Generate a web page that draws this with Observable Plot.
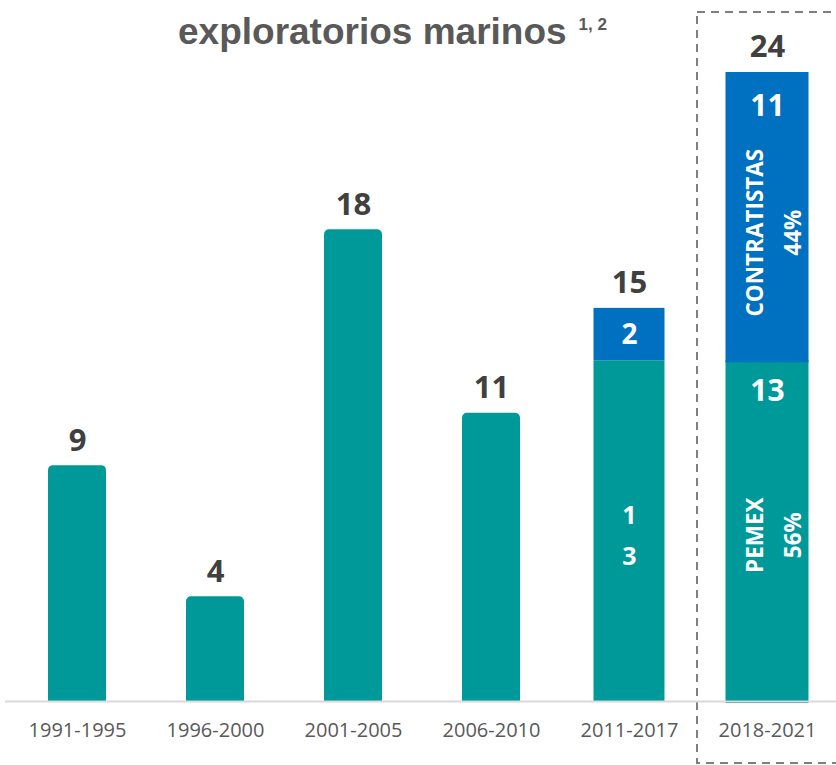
<!DOCTYPE html>
<html>
<head>
<meta charset="utf-8">
<script src="https://cdn.jsdelivr.net/npm/d3@7"></script>
<script src="https://cdn.jsdelivr.net/npm/@observablehq/plot@0.6"></script>
<style>
  html, body { margin: 0; padding: 0; background: #fff; }
  #wrap { position: relative; width: 836px; height: 765px; overflow: hidden; }
  #title {
    position: absolute; left: 178px; top: 6px; margin: 0;
    font-family: "Liberation Sans", Arial, sans-serif; font-weight: 700;
    font-size: 37px; line-height: 37px; color: #595959; white-space: nowrap;
  }
  #title sup { font-size: 17px; vertical-align: 14px; margin-left: 12px; }
</style>
</head>
<body>
<div id="wrap">
  <div id="title">exploratorios marinos<sup>1, 2</sup></div>
</div>
<script>
// ---- data ----
const periods = ["1991-1995", "1996-2000", "2001-2005", "2006-2010", "2011-2017", "2018-2021"];
const pemexWells = [9, 4, 18, 11, 13, 13];
const contractorWells = [0, 0, 0, 0, 2, 11];
const groups = ["PEMEX", "CONTRATISTAS"];
const shares2018 = ["56%", "44%"];

const teal = "#009999";
const blue = "#0070C0";

const rows = periods.flatMap((p, i) => [
  {period: p, who: groups[0], n: pemexWells[i]},
  {period: p, who: groups[1], n: contractorWells[i]}
]).filter(d => d.n > 0);
const totals = periods.map((p, i) => ({period: p, total: pemexWells[i] + contractorWells[i]}));

const singles = rows.filter(d => periods.indexOf(d.period) < 4);
const mixA = rows.filter(d => d.period === periods[4]);
const mixB = rows.filter(d => d.period === periods[5]);

const iA = 4, iB = 5;
const pA = pemexWells[iA], cA = contractorWells[iA];
const pB = pemexWells[iB], cB = contractorWells[iB];

const font = "'Open Sans', sans-serif";

const chart = Plot.plot({
  width: 836,
  height: 765,
  marginTop: 72,
  marginBottom: 64,
  marginLeft: 8,
  marginRight: 0,
  style: {fontFamily: font, color: "#595959", background: "#fff", overflow: "hidden"},
  x: {domain: periods, paddingInner: 0.58, paddingOuter: 0.29, axis: null, label: null},
  y: {domain: [0, 24], axis: null, label: null},
  color: {domain: groups, range: [teal, blue]},
  marks: [
    // dashed box around the latest period
    Plot.cell([periods[5]], {x: d => d, fill: "none", stroke: "#7f7f7f", strokeWidth: 2,
      strokeDasharray: "8,6", insetLeft: -41, insetRight: -80, insetTop: -60, insetBottom: -62}),
    Plot.barY(singles, {x: "period", y: "n", fill: teal, ry1: 5}),
    Plot.barY(mixA, Plot.stackY({x: "period", y: "n", fill: "who", insetLeft: -6.5, insetRight: -6.5})),
    Plot.barY(mixB, Plot.stackY({x: "period", y: "n", fill: "who", insetLeft: -12.5, insetRight: -12.5, insetBottom: -2})),
    Plot.ruleY([0], {stroke: "#d9d9d9", strokeWidth: 2, insetLeft: -3}),
    Plot.axisX({tickSize: 0, tickPadding: 21, fontSize: 20, fontFamily: font, fill: "#595959", label: null}),
    // totals above bars
    Plot.text(totals, {x: "period", y: "total", text: d => String(d.total), dy: -25,
      fontSize: 31, fontWeight: 700, fill: "#404040", fontFamily: font}),
    // 2011-2017 inside labels
    Plot.text([{period: periods[iA], v: pA + cA / 2, t: String(cA)}], {x: "period", y: "v", text: "t",
      fill: "#fff", fontSize: 28, fontWeight: 700, fontFamily: font}),
    Plot.text([{period: periods[iA], v: pA / 2, t: String(pA).split("").join("\n")}], {x: "period", y: "v", text: "t",
      fill: "#fff", fontSize: 25, fontWeight: 700, lineHeight: 1.64, fontFamily: font}),
    // 2018-2021 inside labels
    Plot.text([{period: periods[iB], v: pB + cB, t: String(cB)}], {x: "period", y: "v", text: "t", dy: 34,
      fill: "#fff", fontSize: 30, fontWeight: 700, fontFamily: font}),
    Plot.text([{period: periods[iB], v: pB, t: String(pB)}], {x: "period", y: "v", text: "t", dy: 31,
      fill: "#fff", fontSize: 30, fontWeight: 700, fontFamily: font}),
    Plot.text([{period: periods[iB], v: pB + cB / 2, t: groups[1] + "\n" + shares2018[1]}], {x: "period", y: "v", text: "t",
      dy: 16, dx: 2, rotate: -90, fill: "#fff", fontSize: 22.5, fontWeight: 700, lineHeight: 1.7, fontFamily: font}),
    Plot.text([{period: periods[iB], v: pB / 2, t: groups[0] + "\n" + shares2018[0]}], {x: "period", y: "v", text: "t",
      dy: 4, dx: 2, rotate: -90, fill: "#fff", fontSize: 22.5, fontWeight: 700, lineHeight: 1.7, fontFamily: font})
  ]
});
chart.style.position = "absolute";
chart.style.left = "0";
chart.style.top = "0";
const wrap = document.getElementById("wrap");
wrap.insertBefore(chart, wrap.firstChild);
</script>
</body>
</html>
